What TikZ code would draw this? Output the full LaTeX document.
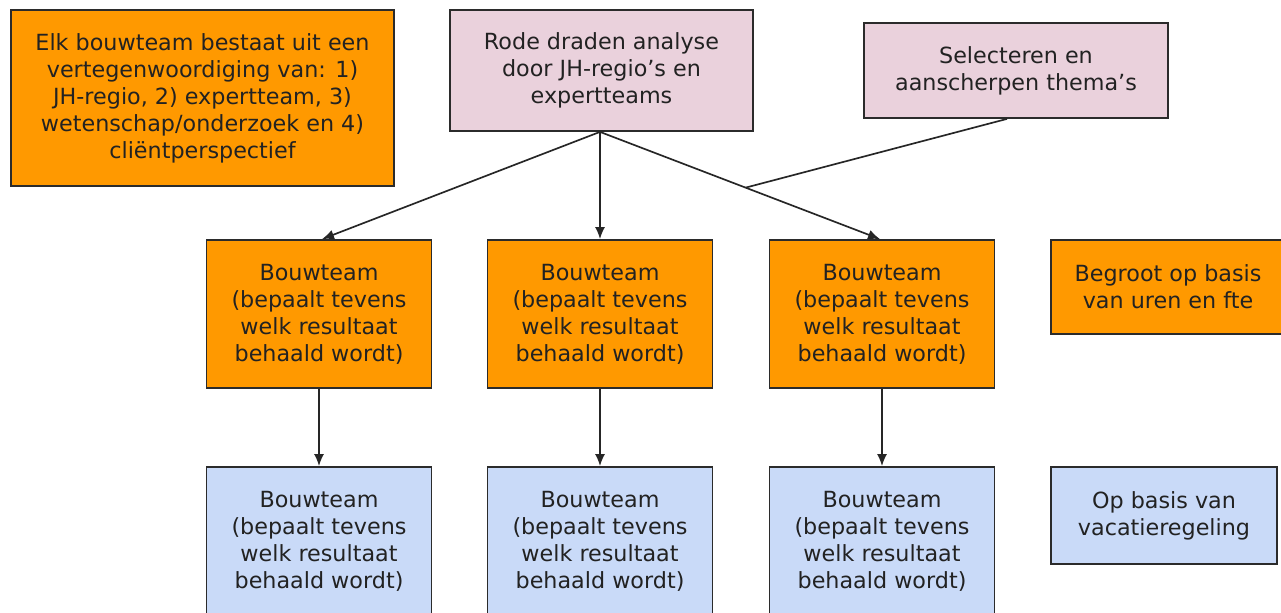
\documentclass[tikz,border=0pt]{standalone}
\usepackage{fontspec}
\setmainfont{DejaVu Sans}
\usetikzlibrary{arrows.meta,calc}
\definecolor{gorange}{HTML}{FF9900}
\definecolor{gpink}{HTML}{EAD1DC}
\definecolor{gblue}{HTML}{C9DAF8}
\definecolor{gborder}{HTML}{2B2B2B}
\definecolor{gtext}{HTML}{222222}
\tikzset{
  box/.style={draw=gborder, line width=1.35pt, rectangle, align=center, inner sep=0pt,
    text=gtext, font=\fontsize{16.7}{20.25}\selectfont},
  obox/.style={box, fill=gorange},
  pbox/.style={box, fill=gpink},
  bbox/.style={box, fill=gblue},
  conn/.style={draw=black!85, line width=1.25pt},
  arr/.style={conn, -{Latex[length=9pt,width=7.5pt]}},
}
\begin{document}
\begin{tikzpicture}[x=0.75pt,y=-0.75pt]
\useasboundingbox (0,0) rectangle (1281,613);
\clip (0,0) rectangle (1281,613);
\fill[white] (0,0) rectangle (1281,613);
\node[obox, minimum width=383*0.75pt, minimum height=176*0.75pt] (A) at (202.5,98)
  {Elk bouwteam bestaat uit een\\vertegenwoordiging van: 1)\\JH-regio, 2) expertteam, 3)\\wetenschap/onderzoek en 4)\\cliëntperspectief};
\node[pbox, minimum width=303*0.75pt, minimum height=121*0.75pt] (R) at (601.5,70.5)
  {Rode draden analyse\\door JH-regio’s en\\expertteams};
\node[pbox, minimum width=304*0.75pt, minimum height=95*0.75pt] (S) at (1016,70.5)
  {Selecteren en\\aanscherpen thema’s};
\foreach \n/\x in {O1/319, O2/600, O3/882} {
  \node[obox, minimum width=225*0.75pt, minimum height=148*0.75pt] (\n) at (\x,314)
    {Bouwteam\\(bepaalt tevens\\welk resultaat\\behaald wordt)};
}
\foreach \n/\x in {B1/319, B2/600, B3/882} {
  \node[bbox, minimum width=225*0.75pt, minimum height=148*0.75pt] (\n) at (\x,541)
    {Bouwteam\\(bepaalt tevens\\welk resultaat\\behaald wordt)};
}
\node[obox, minimum width=234*0.75pt, minimum height=94*0.75pt] (G) at (1168,287)
  {Begroot op basis\\van uren en fte};
\node[bbox, minimum width=226*0.75pt, minimum height=97*0.75pt] (V) at (1164,515.5)
  {Op basis van\\vacatieregeling};
% connectors
\coordinate (t1) at ($(O1.north)+(3,0)$);
\coordinate (t3) at ($(O3.north)+(-2,0)$);
\coordinate (r0) at ($(R.south)+(-1.5,0)$);
\coordinate (J) at ($(r0)!0.52!(t3)$);
\coordinate (s0) at ($(S.south)+(-9,0)$);
\draw[arr] (r0) -- (t1);
\draw[arr] (r0) -- (O2.north);
\draw[arr] (r0) -- (t3);
\draw[conn] (s0) -- (J);
\draw[arr] (O1.south) -- (B1.north);
\draw[arr] (O2.south) -- (B2.north);
\draw[arr] (O3.south) -- (B3.north);
\end{tikzpicture}
\end{document}
